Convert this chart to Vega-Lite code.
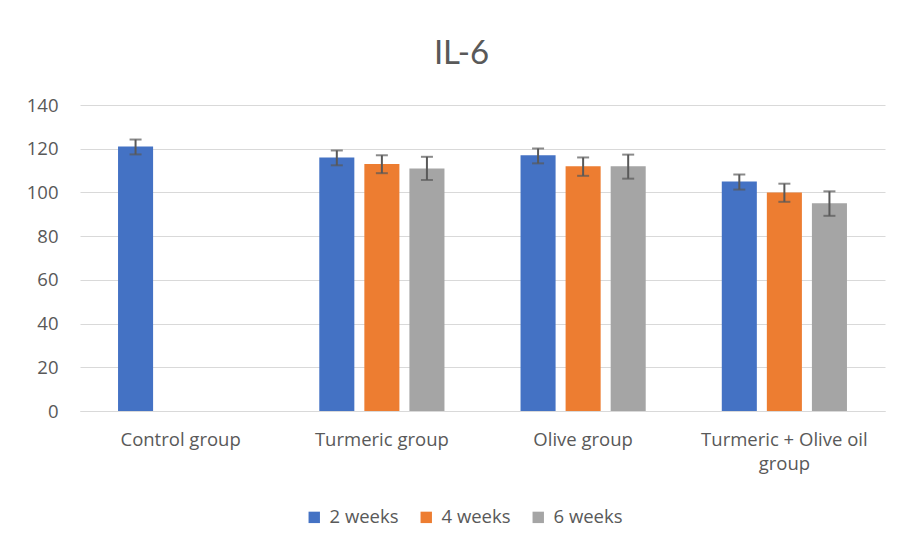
{
  "$schema": "https://vega.github.io/schema/vega-lite/v6.json",
  "width": 805,
  "height": 306,
  "autosize": {"type": "none"},
  "padding": {"left": 80, "top": 105, "right": 16, "bottom": 135},
  "background": "white",
  "config": {
    "font": "Open Sans",
    "view": {"stroke": null},
    "axis": {"labelColor": "#595959", "labelFont": "Open Sans", "labelFontSize": 18.5},
    "legend": {"labelColor": "#595959", "labelFont": "Open Sans", "labelFontSize": 18.5}
  },
  "title": {
    "text": "IL-6",
    "font": "Lato",
    "fontSize": 33,
    "fontWeight": "normal",
    "color": "#595959",
    "offset": 25,
    "dx": -21
  },
  "data": {
    "values": [
      {"group": "Control group", "period": "2 weeks", "value": 121, "lo": 117.4, "hi": 124.2},
      {"group": "Turmeric group", "period": "2 weeks", "value": 116, "lo": 112.4, "hi": 119.2},
      {"group": "Turmeric group", "period": "4 weeks", "value": 113, "lo": 108.8, "hi": 117},
      {"group": "Turmeric group", "period": "6 weeks", "value": 111, "lo": 105.7, "hi": 116.3},
      {"group": "Olive group", "period": "2 weeks", "value": 117, "lo": 113.3, "hi": 120.1},
      {"group": "Olive group", "period": "4 weeks", "value": 112, "lo": 107.6, "hi": 116},
      {"group": "Olive group", "period": "6 weeks", "value": 112, "lo": 106.3, "hi": 117.3},
      {"group": "Turmeric + Olive oil group", "period": "2 weeks", "value": 105, "lo": 101.3, "hi": 108.2},
      {"group": "Turmeric + Olive oil group", "period": "4 weeks", "value": 100, "lo": 95.7, "hi": 104},
      {"group": "Turmeric + Olive oil group", "period": "6 weeks", "value": 95, "lo": 89.3, "hi": 100.5}
    ]
  },
  "encoding": {
    "x": {
      "field": "group",
      "type": "nominal",
      "sort": ["Control group", "Turmeric group", "Olive group", "Turmeric + Olive oil group"],
      "scale": {"paddingInner": 0.378, "paddingOuter": 0.189},
      "axis": {
        "title": null,
        "labelAngle": 0,
        "ticks": false,
        "domainColor": "#d9d9d9",
        "domainWidth": 1,
        "labelPadding": 19,
        "labelLineHeight": 24,
        "labelExpr": "datum.label == 'Turmeric + Olive oil group' ? ['Turmeric + Olive oil', 'group'] : datum.label"
      }
    },
    "xOffset": {
      "field": "period",
      "type": "nominal",
      "scale": {"domain": ["2 weeks", "4 weeks", "6 weeks"], "paddingInner": 0.222, "paddingOuter": 0}
    }
  },
  "layer": [
    {
      "mark": {"type": "bar"},
      "encoding": {
        "y": {
          "field": "value",
          "type": "quantitative",
          "scale": {"domain": [0, 140]},
          "axis": {
            "title": null,
            "values": [0, 20, 40, 60, 80, 100, 120, 140],
            "domain": false,
            "ticks": false,
            "gridColor": "#d9d9d9",
            "gridWidth": 1,
            "labelPadding": 22
          }
        },
        "color": {
          "field": "period",
          "type": "nominal",
          "scale": {"domain": ["2 weeks", "4 weeks", "6 weeks"], "range": ["#4472C4", "#ED7D31", "#A5A5A5"]},
          "legend": {
            "title": null,
            "orient": "none",
            "legendX": 225,
            "legendY": 403,
            "direction": "horizontal",
            "symbolType": "square",
            "symbolSize": 130,
            "symbolStrokeWidth": 0,
            "columnPadding": 18,
            "labelOffset": 6
          }
        }
      }
    },
    {
      "mark": {"type": "rule", "color": "#595959", "strokeWidth": 2},
      "encoding": {
        "y": {"field": "lo", "type": "quantitative"},
        "y2": {"field": "hi"}
      }
    },
    {
      "mark": {"type": "tick", "color": "#595959", "thickness": 2, "size": 12, "orient": "horizontal"},
      "encoding": {
        "y": {"field": "lo", "type": "quantitative"}
      }
    },
    {
      "mark": {"type": "tick", "color": "#595959", "thickness": 2, "size": 12, "orient": "horizontal"},
      "encoding": {
        "y": {"field": "hi", "type": "quantitative"}
      }
    }
  ]
}
